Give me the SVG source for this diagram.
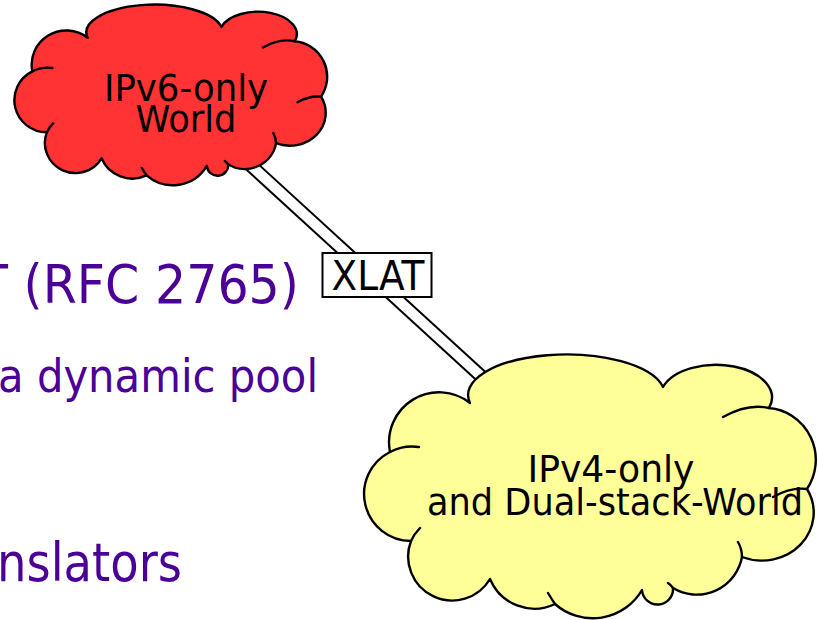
<svg xmlns="http://www.w3.org/2000/svg" xmlns:xlink="http://www.w3.org/1999/xlink" width="818" height="620" viewBox="0 0 818 620">
<style>
.outline{stroke:#000;stroke-width:2.4;stroke-linejoin:round}
.inner{fill:none;stroke:#000;stroke-width:2.4;stroke-linecap:round}
.lbl{font-family:"DejaVu Sans",sans-serif;fill:#000;text-anchor:middle}
.bullet{font-family:"DejaVu Sans",sans-serif;fill:#4b0096}
.linkOuter{stroke:#000;stroke-width:14;fill:none}
.linkInner{stroke:#fff;stroke-width:10;fill:none}
</style>
<defs>
<g id="cloud">
<path class="outline" vector-effect="non-scaling-stroke" d="M 470 403 A 97 40 0 0 1 663 387 A 53 31 0 0 1 769 408 A 51 52 0 0 1 807 489 A 52 48 0 0 1 742 557 A 46 46 0 0 1 673 588 A 15 15 0 0 1 642 590 A 57 57 0 0 1 555 604 A 48 48 0 0 1 490 579 A 44 44 0 0 1 411 541 A 47 47 0 0 1 390 452 A 50 50 0 0 1 470 403 Z"/>
<path class="inner" vector-effect="non-scaling-stroke" d="M 723 417 Q 748 403 769 408 M 773 497 Q 791 487 807 489 M 738 542 Q 742 549 742 557 M 668 583 Q 671 585 673 588 M 548 593 Q 551 598 555 604 M 411 541 A 44 44 0 0 1 420 528 M 390 452 A 47 47 0 0 1 419 447"/>
</g>
</defs>
<g id="slide-text">
<text class="bullet" x="-22" y="303" font-size="53" textLength="321" lengthAdjust="spacingAndGlyphs">T (RFC 2765)</text>
<text class="bullet" x="-2" y="392" font-size="47" textLength="320" lengthAdjust="spacingAndGlyphs">a dynamic pool</text>
<text class="bullet" x="-3" y="581" font-size="53" textLength="185" lengthAdjust="spacingAndGlyphs">nslators</text>
</g>
<g id="connectors">
<g id="xlat-link">
<line class="linkOuter" x1="235" y1="151" x2="500" y2="393.5"/>
<line class="linkInner" x1="235" y1="151" x2="500" y2="393.5"/>
<rect x="322.5" y="253" width="109" height="44" fill="#fff" stroke="#000" stroke-width="2"/>
<text class="lbl" x="378" y="290" font-size="40" textLength="93" lengthAdjust="spacingAndGlyphs">XLAT</text>
</g>
</g>
<g id="ipv6-world">
<use xlink:href="#cloud" href="#cloud" fill="#ff3333" transform="translate(15,5) scale(0.6925,0.6844) translate(-365,-355)"/>
<text class="lbl" x="186" y="101" font-size="38" textLength="164" lengthAdjust="spacingAndGlyphs">IPv6-only</text>
<text class="lbl" x="186" y="132" font-size="38" textLength="101" lengthAdjust="spacingAndGlyphs">World</text>
</g>
<g id="ipv4-world">
<use xlink:href="#cloud" href="#cloud" fill="#ffff99"/>
<text class="lbl" x="611" y="482" font-size="38" textLength="167" lengthAdjust="spacingAndGlyphs">IPv4-only</text>
<text class="lbl" x="615" y="515" font-size="38" textLength="376" lengthAdjust="spacingAndGlyphs">and Dual-stack-World</text>
</g>
</svg>
